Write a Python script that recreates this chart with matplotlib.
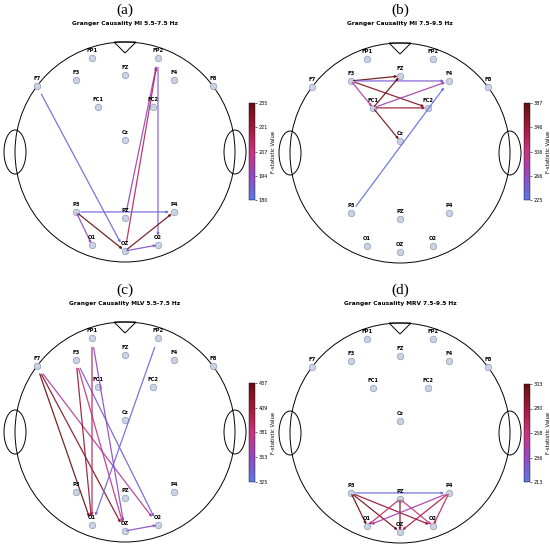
import numpy as np
import matplotlib
matplotlib.use("Agg")
import matplotlib.pyplot as plt
from matplotlib.patches import Circle, Ellipse, Polygon, FancyArrowPatch
from matplotlib.colors import LinearSegmentedColormap, Normalize
from matplotlib.cm import ScalarMappable

# ---------------- data ----------------
electrodes = ["FP1", "FP2", "F7", "F3", "FZ", "F4", "F8", "FC1", "FC2", "Cz",
              "P3", "PZ", "P4", "O1", "OZ", "O2"]
elec_x = [-0.30, 0.30, -0.80, -0.445, 0.0, 0.445, 0.80, -0.245, 0.255, 0.0,
          -0.445, 0.0, 0.445, -0.30, 0.0, 0.30]
elec_y = [0.855, 0.855, 0.60, 0.655, 0.70, 0.655, 0.60, 0.41, 0.41, 0.11,
          -0.545, -0.60, -0.545, -0.845, -0.90, -0.845]

panel_letters = ["(a)", "(b)", "(c)", "(d)"]
panel_titles = ["Granger Causality MI 5.5-7.5 Hz",
                "Granger Causality MI 7.5-9.5 Hz",
                "Granger Causality MLV 5.5-7.5 Hz",
                "Granger Causality MRV 7.5-9.5 Hz"]

# panel (a)
a_src = ["F7", "PZ", "OZ", "FP2", "P3", "P3", "P3", "OZ", "OZ"]
a_dst = ["OZ", "FP2", "FP2", "O2", "P4", "OZ", "O1", "P4", "O2"]
a_val = [185, 196, 214, 188, 186, 235, 193, 231, 190]
a_ticks = ["180", "194", "207", "221", "235"]
a_range = [180, 235]

# panel (b)
b_src = ["F3", "F3", "F3", "F3", "FC1", "FC1", "FC1", "FC1", "P3"]
b_dst = ["FZ", "F4", "FC2", "FC1", "Cz", "FZ", "FC2", "F4", "F4"]
b_val = [385, 250, 362, 285, 372, 383, 352, 278, 232]
b_ticks = ["225", "266", "306", "346", "387"]
b_range = [225, 387]

# panel (c)
c_src = ["F7", "F7", "F7", "F3", "F3", "F3", "FP1", "FP1", "FP2", "OZ"]
c_dst = ["O1", "OZ", "O2", "O1", "OZ", "O2", "O1", "OZ", "O1", "O2"]
c_val = [437, 422, 368, 412, 378, 340, 398, 352, 333, 350]
c_ticks = ["325", "353", "381", "409", "437"]
c_range = [325, 437]

# panel (d)
d_src = ["P3", "P3", "P3", "P3", "PZ", "PZ", "PZ", "P4", "P4", "P4"]
d_dst = ["P4", "O1", "OZ", "O2", "O1", "OZ", "O2", "O1", "OZ", "O2"]
d_val = [220, 301, 298, 284, 264, 296, 258, 244, 276, 266]
d_ticks = ["213", "236", "258", "280", "303"]
d_range = [213, 303]

panels = [(a_src, a_dst, a_val, a_ticks, a_range),
          (b_src, b_dst, b_val, b_ticks, b_range),
          (c_src, c_dst, c_val, c_ticks, c_range),
          (d_src, d_dst, d_val, d_ticks, d_range)]

# ---------------- style / layout ----------------
cmap = LinearSegmentedColormap.from_list(
    "gc", ["#5b78e6", "#9448c0", "#c8347e", "#a01a3a", "#661010"])

W, H = 550, 549
fig = plt.figure(figsize=(W / 100, H / 100), dpi=100)

R = 110.0  # head radius in pixels
centers = [(125, 152), (400, 153), (125, 432), (400, 433)]
letter_y = [10, 10, 290, 290]
title_y = [23, 23, 303, 303]
cbar_boxes = [(249, 103, 6, 97), (524, 103, 6, 97),
              (249, 383, 6, 99), (524, 384, 6, 98)]
lim = 1.15
trim = 0.05

pos = {n: np.array([x, y]) for n, x, y in zip(electrodes, elec_x, elec_y)}

for i, (src, dst, val, ticks, rng) in enumerate(panels):
    cx, cy = centers[i]
    half = lim * R
    ax = fig.add_axes([(cx - half) / W, 1 - (cy + half) / H,
                       2 * half / W, 2 * half / H])
    ax.set_xlim(-lim, lim)
    ax.set_ylim(-lim, lim)
    ax.set_aspect("equal")
    ax.axis("off")

    # head
    ax.add_patch(Circle((0, 0), 1.0, fill=False, ec="black", lw=0.7))
    ax.add_patch(Ellipse((-1.0, 0), 0.2, 0.40, fill=False, ec="black", lw=0.7))
    ax.add_patch(Ellipse((1.0, 0), 0.2, 0.40, fill=False, ec="black", lw=0.7))
    ax.add_patch(Polygon([(-0.1, 1.0), (0.1, 1.0), (0, 0.9)], closed=True,
                         fill=False, ec="black", lw=0.7))

    # electrodes
    ax.scatter(elec_x, elec_y, s=22, c="#c9d3e3", edgecolors="#8c9bb5",
               linewidths=0.5, zorder=2)
    for n, x, y in zip(electrodes, elec_x, elec_y):
        ax.text(x, y + 0.045, n, ha="center", va="bottom", fontsize=3.8,
                fontweight="bold", zorder=4)

    norm = Normalize(vmin=rng[0], vmax=rng[1])
    for s, d, v in zip(src, dst, val):
        p, q = pos[s], pos[d]
        a = p + trim * (q - p)
        b = q - trim * (q - p)
        arr = FancyArrowPatch(tuple(a), tuple(b), arrowstyle="-|>",
                              mutation_scale=3, shrinkA=0, shrinkB=0,
                              color=cmap(norm(v)), lw=0.9, alpha=0.92,
                              zorder=3)
        ax.add_patch(arr)

    # titles
    fig.text(cx / W, 1 - letter_y[i] / H, panel_letters[i], ha="center",
             va="center", fontsize=11, family="Liberation Serif")
    fig.text(cx / W, 1 - title_y[i] / H, panel_titles[i],
             ha="center", va="center", fontsize=4.2, fontweight="bold")

    # colorbar
    bx, by, bw, bh = cbar_boxes[i]
    cax = fig.add_axes([bx / W, 1 - (by + bh) / H, bw / W, bh / H])
    sm = ScalarMappable(norm=norm, cmap=cmap)
    cb = fig.colorbar(sm, cax=cax)
    tv = np.linspace(rng[0], rng[1], 5)
    cb.set_ticks(tv)
    cb.set_ticklabels(ticks)
    cb.ax.tick_params(labelsize=3.5, length=1.5, width=0.4, pad=1)
    cb.outline.set_linewidth(0.3)
    cb.set_label("F-statistic Value", fontsize=3.8, labelpad=2)

fig.savefig("out.png", dpi=100)
